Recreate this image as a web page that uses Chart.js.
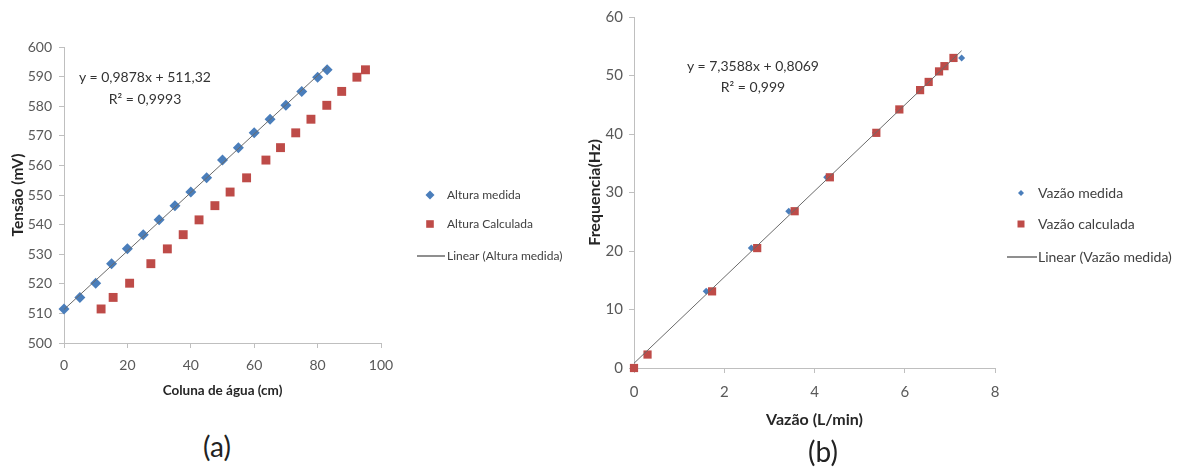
<!DOCTYPE html>
<html>
<head>
<meta charset="utf-8">
<script src="https://cdn.jsdelivr.net/npm/chart.js@4.4.1/dist/chart.umd.min.js"></script>
<style>
    body { margin: 0; background: #fff; width: 1179px; height: 468px; overflow: hidden; position: relative; font-family: Lato, sans-serif; }
    canvas { position: absolute; }
    .txt { position: absolute; white-space: nowrap; transform: translate(-50%, -50%); color: #333; }
    .eq { font-size: 14px; }
    .tag { font-size: 28px; color: #222; }
</style>
</head>
<body>
<canvas id="chartA" width="600" height="410" style="left:0;top:0"></canvas>
<canvas id="chartB" width="599" height="468" style="left:580px;top:0"></canvas>

<div class="txt eq" style="left:145px;top:76px">y = 0,9878x + 511,32</div>
<div class="txt eq" style="left:145px;top:98px">R² = 0,9993</div>
<div class="txt eq" style="left:753px;top:65px">y = 7,3588x + 0,8069</div>
<div class="txt eq" style="left:753px;top:86px">R² = 0,999</div>
<div class="txt tag" style="left:217px;top:446px">(a)</div>
<div class="txt tag" style="left:823px;top:451px">(b)</div>

<script>
// (a) Tensão x coluna de água
const colunaMedida = [0, 5, 10, 15, 20, 25, 30, 35, 40, 45, 50, 55, 60, 65, 70, 75, 80, 83];
const alturaMedida = [511.5, 515.4, 520.2, 526.8, 531.8, 536.6, 541.6, 546.4, 551, 555.8, 561.8, 566, 571, 575.6, 580.3, 585, 589.8, 592.3];
const colunaCalculada = [11.7, 15.5, 20.7, 27.4, 32.6, 37.6, 42.6, 47.6, 52.4, 57.6, 63.7, 68.3, 73.1, 77.9, 82.9, 87.6, 92.4, 95.1];
const alturaCalculada = [511.5, 515.4, 520.2, 526.8, 531.8, 536.6, 541.6, 546.4, 551, 555.8, 561.8, 566, 571, 575.6, 580.3, 585, 589.8, 592.3];
const trendA = [0.9878, 511.32];     // slope, intercept
const trendARange = [0, 83];

// (b) Frequencia x vazão
const vazaoMedida = [0, 0.28, 1.6, 2.6, 3.43, 4.27, 5.35, 5.87, 6.33, 6.52, 6.75, 6.87, 7.26];
const freqMedida = [0, 2.3, 13.1, 20.5, 26.8, 32.6, 40.2, 44.2, 47.5, 48.9, 50.7, 51.6, 53.0];
const vazaoCalculada = [0, 0.3, 1.73, 2.73, 3.56, 4.34, 5.37, 5.88, 6.34, 6.53, 6.76, 6.88, 7.08];
const freqCalculada = [0, 2.3, 13.1, 20.5, 26.8, 32.6, 40.2, 44.2, 47.5, 48.9, 50.7, 51.6, 53.0];
const trendB = [7.3588, 0.8069];
const trendBRange = [0, 7.26];

const FONT = 'Lato, "Open Sans", sans-serif';
const BLUE = '#4a7ebb';
const RED = '#be4b48';
const LINE = '#6a6a6a';

const pts = (xs, ys) => xs.map((x, i) => ({ x: x, y: ys[i] }));
const trendPts = (range, t) => range.map(x => ({ x: x, y: t[0] * x + t[1] }));

// legend drawn beside the plot, excel style
const sideLegend = {
    id: 'sideLegend',
    afterDraw(chart, args, o) {
        const ctx = chart.ctx;
        ctx.save();
        ctx.font = o.size + 'px ' + FONT;
        ctx.textBaseline = 'middle';
        chart.data.datasets.forEach((ds, i) => {
            const y = o.rows[i];
            if (ds.showLine) {
                ctx.strokeStyle = ds.borderColor;
                ctx.lineWidth = 1.5;
                ctx.beginPath();
                ctx.moveTo(o.lineX[0], y);
                ctx.lineTo(o.lineX[1], y);
                ctx.stroke();
            } else {
                const r = o.marks[i];
                ctx.fillStyle = ds.backgroundColor;
                ctx.beginPath();
                if (ds.pointStyle === 'rectRot') {
                    ctx.moveTo(o.markX - r, y);
                    ctx.lineTo(o.markX, y - r);
                    ctx.lineTo(o.markX + r, y);
                    ctx.lineTo(o.markX, y + r);
                    ctx.closePath();
                } else {
                    ctx.rect(o.markX - r, y - r, 2 * r, 2 * r);
                }
                ctx.fill();
            }
            ctx.fillStyle = '#404040';
            ctx.fillText(ds.label, o.textX, y);
        });
        ctx.restore();
    }
};

function axis(min, max, step, tickSize, pad, title, titleSize, fitKey, fitVal) {
    return {
        type: 'linear', min: min, max: max,
        ticks: { stepSize: step, padding: pad, color: '#595959', font: { family: FONT, size: tickSize } },
        grid: { drawOnChartArea: false, tickLength: 5, color: '#bfbfbf' },
        border: { color: '#bfbfbf' },
        title: { display: true, text: title, color: '#262626', padding: { top: 0, bottom: 0 },
                 font: { family: FONT, size: titleSize, weight: 'bold' } },
        afterFit: s => { s[fitKey] = fitVal; }
    };
}

function initChart(id, datasets, scales, padding, legend) {
    return new Chart(document.getElementById(id), {
        type: 'scatter',
        data: { datasets: datasets },
        options: {
            responsive: false,
            animation: false,
            events: [],
            layout: { padding: padding, autoPadding: false },
            plugins: { legend: { display: false }, tooltip: { enabled: false }, sideLegend: legend },
            scales: scales
        },
        plugins: [sideLegend]
    });
}

initChart('chartA', [
    { label: 'Altura medida', data: pts(colunaMedida, alturaMedida), pointStyle: 'rectRot', clip: false,
      pointRadius: 5.5, backgroundColor: BLUE, borderColor: BLUE, borderWidth: 0, order: 2 },
    { label: 'Altura Calculada', data: pts(colunaCalculada, alturaCalculada), pointStyle: 'rect', clip: false,
      pointRadius: 6.3, backgroundColor: RED, borderColor: RED, borderWidth: 0, order: 1 },
    { label: 'Linear (Altura medida)', data: trendPts(trendARange, trendA), showLine: true,
      pointRadius: 0, borderColor: LINE, borderWidth: 1, order: 0 }
], {
    x: axis(0, 100, 20, 14, 9, 'Coluna de água (cm)', 13.5, 'height', 56),
    y: axis(500, 600, 10, 14, 7, 'Tensão (mV)', 15.5, 'width', 55)
}, { left: 9, top: 47, right: 219, bottom: 11 },
   { size: 12, rows: [195, 224, 256], markX: 430, marks: [4.5, 3.8], lineX: [417, 445], textX: 447 });

initChart('chartB', [
    { label: 'Vazão medida', data: pts(vazaoMedida, freqMedida), pointStyle: 'rectRot', clip: false,
      pointRadius: 3.5, backgroundColor: BLUE, borderColor: BLUE, borderWidth: 0, order: 2 },
    { label: 'Vazão calculada', data: pts(vazaoCalculada, freqCalculada), pointStyle: 'rect', clip: false,
      pointRadius: 5.8, backgroundColor: RED, borderColor: RED, borderWidth: 0, order: 1 },
    { label: 'Linear (Vazão medida)', data: trendPts(trendBRange, trendB), showLine: true,
      pointRadius: 0, borderColor: LINE, borderWidth: 1, order: 0 }
], {
    x: axis(0, 8, 2, 15, 10, 'Vazão (L/min)', 16, 'height', 61),
    y: axis(0, 60, 10, 15, 6, 'Frequencia(Hz)', 16, 'width', 49)
}, { left: 5, top: 17, right: 184, bottom: 39 },
   { size: 14, rows: [193, 224, 257], markX: 441, marks: [3, 3.5], lineX: [427, 457], textX: 458 });
</script>
</body>
</html>
